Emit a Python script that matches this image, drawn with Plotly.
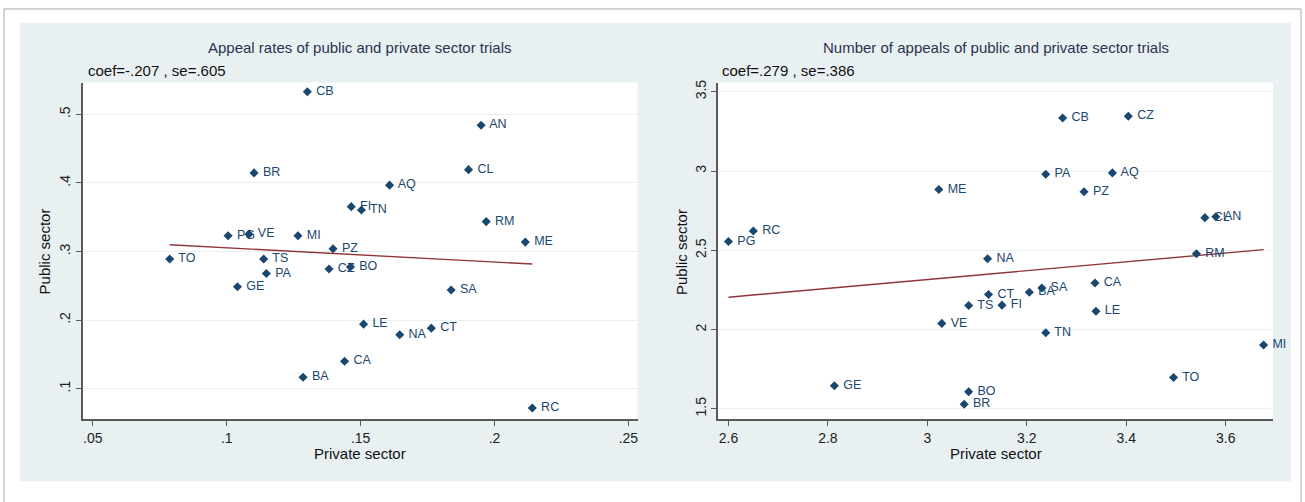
import numpy as np
import plotly.graph_objects as go

# Court district codes (same order in both panels)
codes = ["AN", "AQ", "BA", "BO", "BR", "CA", "CB", "CL", "CT", "CZ", "FI", "GE", "LE",
         "ME", "MI", "NA", "PA", "PG", "PZ", "RC", "RM", "SA", "TN", "TO", "TS", "VE"]

# Appeal rates
rate_private = [0.195, 0.1608, 0.1285, 0.1462, 0.1102, 0.1440, 0.1301, 0.1903, 0.1764,
                0.1382, 0.1465, 0.1040, 0.1511, 0.2115, 0.1266, 0.1646, 0.1148, 0.1005,
                0.1397, 0.2141, 0.1969, 0.1838, 0.1503, 0.0787, 0.1138, 0.1083]
rate_public = [0.484, 0.3968, 0.1168, 0.2775, 0.4146, 0.140, 0.533, 0.4194, 0.1883,
               0.2746, 0.3654, 0.2486, 0.1941, 0.3137, 0.3229, 0.1786, 0.268, 0.3229,
               0.3041, 0.0719, 0.3436, 0.2438, 0.3606, 0.289, 0.289, 0.3253]

# Number of appeals
num_private = [3.580, 3.372, 3.205, 3.083, 3.074, 3.337, 3.272, 3.558, 3.123, 3.404,
               3.150, 2.813, 3.339, 3.023, 3.676, 3.121, 3.238, 2.600, 3.315, 2.650,
               3.541, 3.230, 3.238, 3.495, 3.083, 3.029]
num_public = [2.712, 2.988, 2.235, 1.608, 1.529, 2.294, 3.334, 2.706, 2.221, 3.345,
              2.154, 1.646, 2.116, 2.883, 1.903, 2.447, 2.980, 2.555, 2.869, 2.622,
              2.478, 2.262, 1.980, 1.698, 2.152, 2.039]

# Regression summaries
rate_coef, rate_se = -0.207, 0.605
num_coef, num_se = 0.279, 0.386

W, H = 1305, 502
NAVY = "#1a476f"
FIT = "#90353b"
REGION = "#e8f0f2"
AXIS = "#5a5a5a"
FONT = "Liberation Sans, Arial, sans-serif"


def fx(p):
    return p / W


def fy(p):
    return 1 - p / H


def fit_line(x, y, coef):
    x = np.asarray(x)
    y = np.asarray(y)
    b0 = y.mean() - coef * x.mean()
    xs = np.array([x.min(), x.max()])
    return xs, b0 + coef * xs


def fmt(v):
    s = f"{v:.3f}"
    return s.replace("0.", ".", 1)


fig = go.Figure()

marker_labels = [" " + c for c in codes]
panels = [
    (rate_private, rate_public, rate_coef, "x", "y"),
    (num_private, num_public, num_coef, "x2", "y2"),
]
for xv, yv, coef, xa, ya in panels:
    lx, ly = fit_line(xv, yv, coef)
    fig.add_trace(go.Scatter(x=lx, y=ly, mode="lines", xaxis=xa, yaxis=ya,
                             line=dict(color=FIT, width=1.4), showlegend=False,
                             hoverinfo="skip"))
    fig.add_trace(go.Scatter(x=xv, y=yv, mode="markers+text", text=marker_labels,
                             textposition="middle right", xaxis=xa, yaxis=ya,
                             textfont=dict(family=FONT, size=12.5, color=NAVY),
                             marker=dict(symbol="diamond", size=7, color=NAVY),
                             cliponaxis=False, showlegend=False))

common_x = dict(showline=True, linecolor=AXIS, linewidth=2, ticks="outside",
                ticklen=5, tickcolor=AXIS, tickwidth=1, showgrid=False,
                zeroline=False, tickfont=dict(family=FONT, size=14, color="#222"))
common_y = dict(showline=True, linecolor=AXIS, linewidth=2, ticks="outside",
                ticklen=5, tickcolor=AXIS, tickwidth=1, showgrid=True,
                gridcolor=REGION, gridwidth=1, zeroline=False, tickangle=-90,
                tickfont=dict(family=FONT, size=14, color="#222"))

ydom = [fy(419), fy(80)]
fig.update_layout(
    width=W, height=H,
    margin=dict(l=0, r=0, t=0, b=0),
    paper_bgcolor="white", plot_bgcolor="white",
    font=dict(family=FONT),
    xaxis=dict(domain=[fx(83), fx(638)], range=[0.0463, 0.2534], anchor="y",
               tickvals=[0.05, 0.1, 0.15, 0.2, 0.25],
               ticktext=[".05", ".1", ".15", ".2", ".25"], **common_x),
    yaxis=dict(domain=ydom, range=[0.0551, 0.5464], anchor="x",
               tickvals=[0.1, 0.2, 0.3, 0.4, 0.5],
               ticktext=[".1", ".2", ".3", ".4", ".5"], **common_y),
    xaxis2=dict(domain=[fx(719), fx(1274)], range=[2.5799, 3.695], anchor="y2",
                tickvals=[2.6, 2.8, 3.0, 3.2, 3.4, 3.6],
                ticktext=["2.6", "2.8", "3", "3.2", "3.4", "3.6"], **common_x),
    yaxis2=dict(domain=ydom, range=[1.433, 3.558], anchor="x2",
                tickvals=[1.5, 2.0, 2.5, 3.0, 3.5],
                ticktext=["1.5", "2", "2.5", "3", "3.5"], **common_y),
)

# Outer frame, graph region and the two white plot regions
shapes = [
    dict(type="rect", xref="paper", yref="paper", x0=fx(4), x1=fx(1302),
         y0=-0.1, y1=fy(6), line=dict(color="#a8a8a8", width=1),
         fillcolor="white", layer="below"),
    dict(type="rect", xref="paper", yref="paper", x0=fx(20), x1=fx(1292),
         y0=fy(481), y1=fy(20), line=dict(width=0), fillcolor=REGION, layer="below"),
    dict(type="rect", xref="paper", yref="paper", x0=fx(83), x1=fx(638),
         y0=fy(419), y1=fy(80), line=dict(width=0), fillcolor="white", layer="below"),
    dict(type="rect", xref="paper", yref="paper", x0=fx(719), x1=fx(1274),
         y0=fy(419), y1=fy(80), line=dict(width=0), fillcolor="white", layer="below"),
]
fig.update_layout(shapes=shapes)

ann = []
titles = [
    ("Appeal rates of public and private sector trials", (83 + 638) / 2, 86, rate_coef, rate_se),
    ("Number of appeals of public and private sector trials", (719 + 1274) / 2, 721, num_coef, num_se),
]
for text, cx, left, coef, se in titles:
    ann.append(dict(text=text, x=fx(cx), y=fy(45), xref="paper", yref="paper",
                    xanchor="center", yanchor="middle", showarrow=False,
                    font=dict(family=FONT, size=15, color="#2b3350")))
    ann.append(dict(text=f"coef={fmt(coef)} , se={fmt(se)}", x=fx(left), y=fy(68),
                    xref="paper", yref="paper", xanchor="left", yanchor="middle",
                    showarrow=False, font=dict(family=FONT, size=15, color="#111")))
    ann.append(dict(text="Private sector", x=fx(cx), y=fy(453), xref="paper",
                    yref="paper", xanchor="center", yanchor="middle", showarrow=False,
                    font=dict(family=FONT, size=15, color="#111")))
for ax_x in (45, 682):
    ann.append(dict(text="Public sector", x=fx(ax_x), y=fy(250), xref="paper",
                    yref="paper", xanchor="center", yanchor="middle", showarrow=False,
                    textangle=-90, font=dict(family=FONT, size=15, color="#111")))
fig.update_layout(annotations=ann)

fig.write_html("out.html")
